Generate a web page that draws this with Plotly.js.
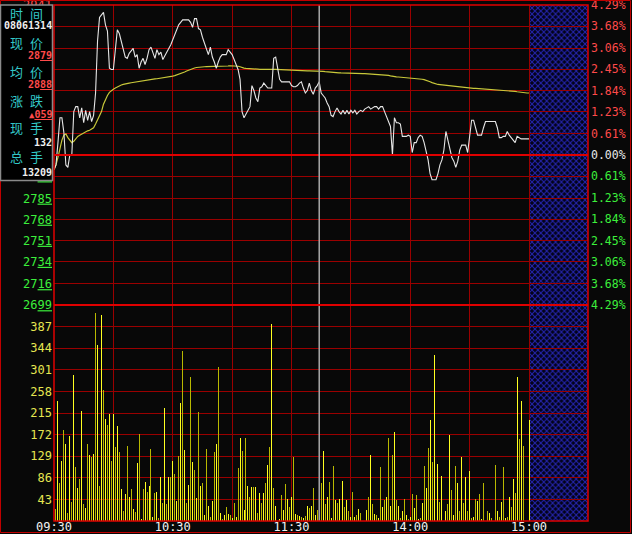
<!DOCTYPE html>
<html><head><meta charset="utf-8">
<script src="https://cdn.plot.ly/plotly-3.0.1.min.js"></script>
<style>html,body{margin:0;padding:0;background:#080808;}#chart{width:632px;height:534px;}</style>
</head><body><div id="chart"></div>
<script>
// ---------- data ----------
const timeTickIdx = [0,30,60,90,120,150,180,210,240];
const timeTickLabels = ['09:30','','10:30','','11:30','','14:00','','15:00'];
const prevClose = 2820;
const priceTicks = [2941,2924,2906,2889,2872,2855,2837,2820,2803,2785,2768,2751,2734,2716,2699];
const pctLabels = ['4.29%','3.68%','3.06%','2.45%','1.84%','1.23%','0.61%','0.00%','0.61%','1.23%','1.84%','2.45%','3.06%','3.68%','4.29%'];
const volTicks = [43,86,129,172,215,258,301,344,387];
const volMax = 430;

const price = [
2808,2812,2830,2850,2850,2838,2812,2810,2820,2820,
2855,2859,2859,2850,2858,2846,2856,2848,2855,2847,
2852,2870,2912,2931,2933,2935,2925,2920,2890,2889,
2889,2905,2921,2918,2912,2905,2899,2898,2902,2904,
2906,2899,2901,2890,2895,2898,2893,2898,2905,2907,
2903,2898,2905,2901,2903,2897,2900,2903,2905,2909,
2913,2917,2922,2925,2927,2929,2929,2929,2929,2927,
2923,2930,2930,2922,2921,2915,2910,2906,2901,2907,
2899,2895,2890,2895,2899,2901,2901,2901,2905,2903,
2901,2897,2893,2889,2881,2855,2850,2853,2855,2859,
2876,2872,2866,2863,2874,2875,2878,2876,2874,2874,
2874,2898,2899,2890,2881,2879,2879,2879,2879,2879,
2876,2875,2875,2876,2878,2879,2874,2870,2872,2878,
2872,2869,2874,2876,2879,2870,2868,2866,2862,2859,
2852,2851,2855,2858,2855,2853,2856,2853,2856,2853,
2856,2854,2856,2853,2855,2856,2855,2857,2858,2859,
2857,2858,2859,2859,2857,2859,2859,2855,2851,2846,
2843,2820,2850,2846,2846,2845,2835,2835,2835,2836,
2835,2822,2830,2830,2834,2836,2835,2830,2824,2816,
2805,2800,2800,2800,2805,2812,2816,2824,2839,2832,
2826,2818,2815,2810,2815,2824,2828,2828,2828,2822,
2838,2848,2848,2842,2836,2836,2836,2842,2847,2847,
2847,2847,2847,2847,2842,2834,2834,2835,2835,2839,
2836,2834,2832,2830,2835,2834,2833,2833,2833,2833,
2833];

const avgPrice = [
2808,2812,2818,2826,2832,2836,2837,2834,2832,2830,
2831,2833,2835,2836,2837,2838,2839,2839.5,2840,2841,
2842,2845,2848,2851,2855,2861,2865,2868,2870.5,2872,
2873,2874,2875,2876,2876.5,2877,2877.5,2877.8,2878,2878.3,
2878.6,2878.8,2879,2879.2,2879.5,2879.8,2880.2,2880.5,2880.8,2881,
2881.2,2881.4,2881.5,2881.7,2882,2882.2,2882.5,2882.8,2883,2883.3,
2883.6,2884,2884.5,2885,2885.6,2886.2,2887,2887.8,2888.5,2889.2,
2889.8,2890.2,2890.6,2890.9,2891,2891.1,2891.2,2891.3,2891.3,2891.4,
2891.4,2891.4,2891.3,2891.4,2891.5,2891.6,2891.7,2891.8,2891.9,2892,
2892,2891.9,2891.8,2891.6,2891.2,2890.5,2890.1,2889.9,2889.7,2889.6,
2889.5,2889.4,2889.3,2889.2,2889.1,2889,2889,2889,2889,2889,
2889,2889,2889,2888.9,2888.8,2888.7,2888.6,2888.5,2888.4,2888.3,
2888.3,2888.2,2888.2,2888.1,2888.1,2888,2888,2888,2887.9,2887.9,
2887.9,2887.8,2887.8,2887.8,2887.7,2887.6,2887.4,2887.2,2887,2886.9,
2886.8,2886.6,2886.5,2886.4,2886.3,2886.2,2886.1,2886.1,2886,2886,
2885.9,2885.9,2885.8,2885.8,2885.7,2885.7,2885.6,2885.6,2885.5,2885.5,
2885.4,2885.4,2885.3,2885.2,2885.1,2885,2884.9,2884.7,2884.5,2884.2,
2883.8,2883.4,2883.2,2883,2882.9,2882.8,2882.7,2882.6,2882.5,2882.4,
2882.3,2882.1,2881.9,2881.7,2881.5,2881.3,2881.1,2880.8,2880.4,2879.8,
2879.1,2878.4,2877.7,2877.2,2876.9,2876.7,2876.5,2876.3,2876.2,2876.1,
2876,2875.8,2875.6,2875.4,2875.2,2875,2874.8,2874.6,2874.4,2874.2,
2874,2873.9,2873.8,2873.7,2873.6,2873.5,2873.4,2873.3,2873.2,2873.1,
2873,2872.9,2872.8,2872.7,2872.6,2872.5,2872.4,2872.3,2872.2,2872.1,
2872,2871.8,2871.6,2871.3,2871,2870.7,2870.4,2870.2,2870.1,2870,
2870];

const volume = [
90,23,239,76,119,181,153,15,170,38,
291,108,65,83,219,33,25,154,131,128,
134,415,350,70,411,260,203,191,214,119,
214,148,189,138,63,20,53,150,48,63,
23,18,115,173,3,63,77,58,69,143,
8,55,57,5,87,35,225,33,87,87,
119,93,39,130,234,338,141,35,71,287,
117,101,46,217,70,75,11,143,30,8,
39,138,153,307,15,3,11,27,13,11,
6,36,8,106,166,139,21,166,69,48,
67,68,68,15,56,36,56,76,111,148,
393,65,29,1,3,51,21,73,43,27,
47,128,13,11,9,7,5,9,29,25,
29,65,11,21,132,76,139,33,47,78,
5,109,41,36,43,5,79,27,41,20,
7,57,7,11,23,15,1,1,21,47,
131,33,13,11,5,108,27,41,47,165,
29,131,177,41,29,5,20,43,11,3,
8,53,25,51,3,5,35,109,65,146,
201,117,330,159,113,38,89,1,20,33,
171,61,11,109,75,20,127,35,88,20,
99,5,7,43,40,53,3,76,1,20,
15,5,1,111,20,8,38,107,5,8,
47,27,83,55,287,163,239,150,1,1,
201];

const cursorIdx = 134;
const infoLabels = [['时','间'],['现','价'],['均','价'],['涨','跌'],['现','手'],['总','手']];
const infoTime = '08061314';
const infoPrice = '2879';
const infoAvg = '2888';
const infoChange = '059';
const infoVol = '132';
const infoTotal = '13209';

// ---------- build ----------
const minutes = price.map((_, i) => i);
const RED = '#ff4a4a', GREEN = '#3cf03c', WHITE = '#e8e8e8';
const colFor = v => v > prevClose ? RED : (v < prevClose ? GREEN : WHITE);
const priceTickText = priceTicks.map(v => {
  const s = String(v), c = colFor(v);
  return `<span style="color:${c}">${s.slice(0,2)}</span><span style="color:${c};text-decoration:underline">${s.slice(2)}</span>`;
});
const pctTickText = pctLabels.map((t, k) => `<span style="color:${colFor(priceTicks[k])}">${t}</span>`);
const barColors = volume.map((_, i) => i === cursorIdx ? '#2020b0' : (i % 2 ? '#b8b800' : '#ffff20'));

const traces = [
  {type:'bar', x:minutes, y:volume, xaxis:'x', yaxis:'y2', width:0.5,
   marker:{color:barColors, line:{width:0, color:barColors}}, hoverinfo:'skip'},
  {type:'scatter', mode:'lines', x:minutes, y:avgPrice, xaxis:'x', yaxis:'y',
   line:{color:'#c8c83a', width:1.2}, hoverinfo:'skip'},
  {type:'scatter', mode:'lines', x:minutes, y:price, xaxis:'x', yaxis:'y',
   line:{color:'#e6e6e6', width:1.1}, hoverinfo:'skip'},
  {type:'scatter', mode:'lines', x:minutes, y:price, xaxis:'x', yaxis:'y3',
   line:{color:'rgba(0,0,0,0)', width:0}, hoverinfo:'skip'}
];

const L = 54, R = 588, T = 5, B = 521;
const W = R - L, H = B - T;
const px2x = p => (p - L) / W;
const py2y = p => (B - p) / H;
const split = py2y(305);
const GRID = '#9a0000', BRIGHT = '#e00000';
const mono = 'DejaVu Sans Mono, Liberation Mono, monospace';

const hatchSvg = '<svg xmlns="http://www.w3.org/2000/svg" width="60" height="516"><defs><pattern id="h" width="6" height="6" patternUnits="userSpaceOnUse"><rect width="6" height="6" fill="#03031a"/><path d="M0,0L6,6M6,0L0,6" stroke="#2323a8" stroke-width="1.1"/></pattern></defs><rect width="60" height="516" fill="url(#h)"/></svg>';

const cn = {family:'Noto Sans CJK SC', size:13, color:'#33c8c8'};
const numF = (c) => ({family:mono, size:10, color:c});
const labelY = [13, 42, 71, 100, 128, 157];
const annotations = [];
infoLabels.forEach((pair, k) => {
  pair.forEach((ch, j) => annotations.push({
    text:ch, xref:'paper', yref:'paper', x:px2x(j ? 36 : 16), y:py2y(labelY[k]),
    xanchor:'center', yanchor:'middle', showarrow:false, font:cn, borderpad:0
  }));
});
const val = (text, px, py, color, anchor) => ({text, xref:'paper', yref:'paper', x:px2x(px), y:py2y(py),
  xanchor:anchor || 'right', yanchor:'middle', showarrow:false, font:numF(color), borderpad:0});
annotations.push(
  val(`<b>${infoTime}</b>`, 27.5, 26, '#f0f0f0', 'center'),
  val(`<b>${infoPrice.slice(0,2)}<span style="text-decoration:underline">${infoPrice.slice(2)}</span></b>`, 52.5, 55.5, RED),
  val(`<b>${infoAvg.slice(0,2)}<span style="text-decoration:underline">${infoAvg.slice(2)}</span></b>`, 52.5, 84.5, RED),
  val(`<span style="font-size:9px">▲</span><b><span style="text-decoration:underline">${infoChange}</span></b>`, 52.5, 114, RED),
  val(`<b>${infoVol}</b>`, 52.5, 142, '#f0f0f0'),
  val(`<b>${infoTotal}</b>`, 52.5, 172, '#f0f0f0')
);

const layout = {
  width:632, height:534,
  margin:{l:L, r:632-R, t:T, b:534-B, pad:0},
  paper_bgcolor:'#080808', plot_bgcolor:'rgba(0,0,0,0)',
  showlegend:false, bargap:0,
  xaxis:{domain:[0,1], anchor:'y2', range:[0,269.8], tickmode:'array', tickvals:timeTickIdx, ticktext:timeTickLabels,
         showgrid:true, gridcolor:GRID, gridwidth:1, zeroline:false, ticks:'', showline:false, ticklabelstandoff:-3,
         ticklabeloverflow:'allow', tickfont:{family:mono, size:12, color:'#f2f2f2'}, fixedrange:true},
  yaxis:{domain:[split,1], anchor:'x', range:[2699,2941], tickmode:'array', tickvals:priceTicks, ticktext:priceTickText,
         showgrid:true, gridcolor:GRID, gridwidth:1, zeroline:false, ticks:'', ticklabelstandoff:1,
         ticklabeloverflow:'allow', tickfont:{family:mono, size:12, color:GREEN}, showline:false},
  yaxis2:{domain:[0,split], anchor:'x', range:[0,volMax], tickmode:'array', tickvals:volTicks, ticktext:volTicks.map(String),
         showgrid:true, gridcolor:GRID, gridwidth:1, zeroline:false, ticks:'', ticklabelstandoff:1,
         tickfont:{family:mono, size:12, color:'#e6e650'}, showline:false},
  yaxis3:{overlaying:'y', anchor:'x', side:'right', range:[2699,2941], tickmode:'array', tickvals:priceTicks, ticktext:pctTickText,
         showgrid:false, zeroline:false, ticks:'', ticklabelstandoff:2, showline:false, ticklabeloverflow:'allow',
         tickfont:{family:mono, size:11.5, color:WHITE}},
  images:[{source:'data:image/svg+xml;charset=utf-8,' + encodeURIComponent(hatchSvg), xref:'x', yref:'paper',
           x:240, y:1, sizex:29.8, sizey:1, xanchor:'left', yanchor:'top', sizing:'stretch', layer:'below'}],
  shapes:[
    {type:'line', xref:'paper', yref:'y', x0:0, x1:1, y0:prevClose, y1:prevClose, line:{color:BRIGHT, width:2}},
    {type:'line', xref:'x', yref:'paper', x0:cursorIdx, x1:cursorIdx, y0:0, y1:1, line:{color:'#a8a8a8', width:1.5}},
    {type:'line', xref:'paper', yref:'paper', x0:0, x1:1, y0:split, y1:split, line:{color:BRIGHT, width:2}},
    {type:'rect', xref:'paper', yref:'paper', x0:0, x1:1, y0:0, y1:1, line:{color:BRIGHT, width:1.5}},
    {type:'rect', xref:'paper', yref:'paper', x0:px2x(0.5), x1:px2x(630.5), y0:py2y(532.5), y1:py2y(0.5), line:{color:'#c00000', width:1}},
    {type:'rect', xref:'paper', yref:'paper', x0:px2x(0.5), x1:px2x(52.5), y0:py2y(180.5), y1:py2y(5), layer:'above',
     fillcolor:'#000', line:{color:'#8a8a8a', width:1.5}}
  ],
  annotations:annotations
};

Plotly.newPlot('chart', traces, layout, {staticPlot:true, displayModeBar:false});
</script>
</body></html>
